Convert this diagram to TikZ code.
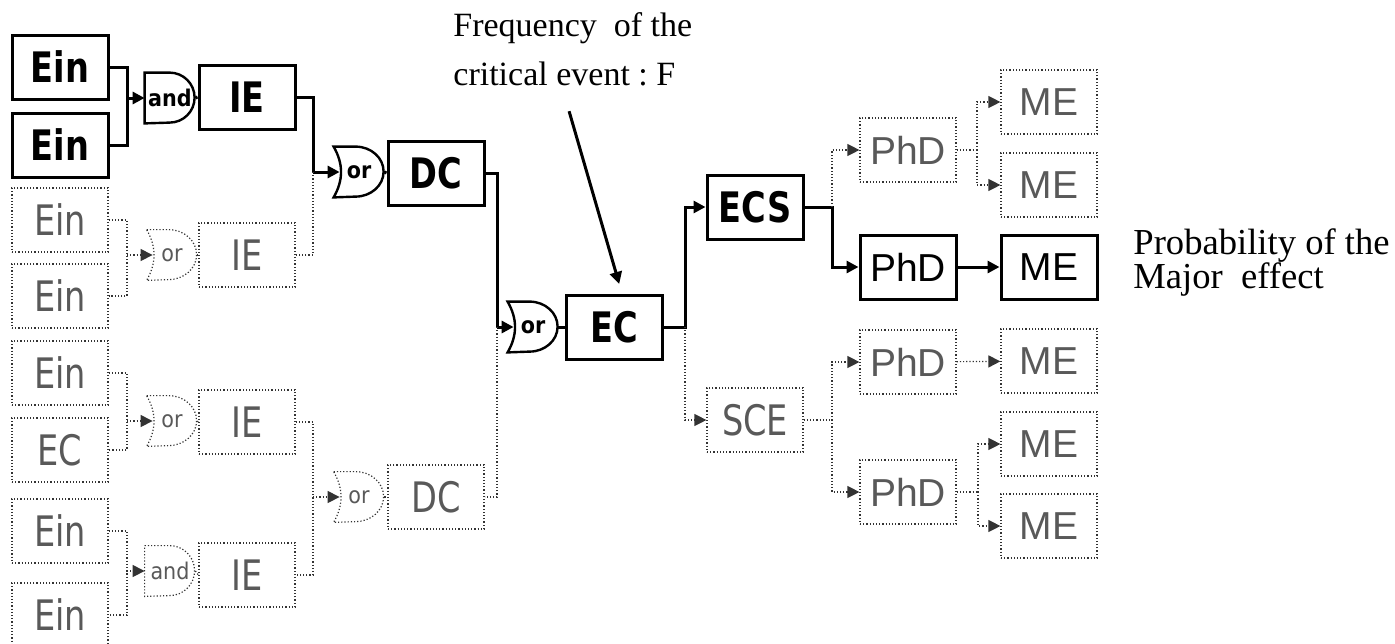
\documentclass[tikz,border=0pt]{standalone}
\usepackage{fontspec}
\setmainfont{Liberation Serif}
\newfontfamily\boxfont[FakeStretch=0.8]{DejaVu Sans}
\newfontfamily\gatefont[FakeStretch=0.9]{DejaVu Sans}
\newfontfamily\arialfont{Liberation Sans}
\usetikzlibrary{arrows.meta}

\begin{document}
\begin{tikzpicture}[
  x=0.5pt, y=-0.5pt,
  box/.style={
    minimum width=48pt,
    minimum height=32pt,
    inner sep=0pt,
    font=\boxfont\fontsize{21}{21}\selectfont
  },
  evbox/.style={box, draw, line width=1.5pt, font=\boxfont\bfseries\fontsize{21}{21}\selectfont},
  endbox/.style={box, draw, line width=1.5pt, font=\arialfont\fontsize{19.5}{19.5}\selectfont},
  faint/.style={draw=black!80, densely dotted, line width=0.6pt, text=black!65},
  ghostbox/.style={box, faint},
  ghostend/.style={box, faint, font=\arialfont\fontsize{19.5}{19.5}\selectfont},
  gate/.style={
    minimum width=25pt,
    minimum height=25pt,
    inner sep=0pt,
    font=\gatefont\fontsize{11.5}{11.5}\selectfont
  },
  livegate/.style={gate, font=\gatefont\bfseries\fontsize{11.5}{11.5}\selectfont},
  ghostgate/.style={gate, text=black!65},
  wire/.style={line width=1.5pt},
  dwire/.style={draw=black!80, densely dotted, line width=0.6pt},
  arr/.style={-{Triangle[length=6pt,width=6pt]}},
  note/.style={align=left, inner sep=0pt, font=\fontsize{17}{24.5}\selectfont}
]
\useasboundingbox (0,0) rectangle (1395,643);

% left column: initiating events
\node[evbox] (ein1) at (60,67) {Ein};
\node[evbox] (ein2) at (60,145) {Ein};
\node[ghostbox] (ein3) at (60,220) {Ein};
\node[ghostbox] (ein4) at (60,296) {Ein};
\node[ghostbox] (ein5) at (60,373) {Ein};
\node[ghostbox] (ecin) at (60,450) {EC};
\node[ghostbox] (ein6) at (60,531) {Ein};
\node[ghostbox] (ein7) at (60,615) {Ein};

% gates and intermediate events
\node[livegate] (and1) at (170,98) {and};
\node[ghostgate] (or2) at (172,255) {or};
\node[ghostgate] (or4) at (172,421) {or};
\node[ghostgate] (and5) at (170,571) {and};

\node[evbox] (ie1) at (247,97) {IE};
\node[ghostbox] (ie2) at (247,255) {IE};
\node[ghostbox] (ie3) at (247,422) {IE};
\node[ghostbox] (ie4) at (247,575) {IE};

\node[livegate] (or3) at (359,172) {or};
\node[ghostgate] (or6) at (359,497) {or};
\node[evbox] (dc1) at (436,173) {DC};
\node[ghostbox] (dc2) at (436,497) {DC};

\node[livegate] (or7) at (533,327) {or};
\node[evbox] (ec) at (614,327) {EC};

% gate outlines
\foreach \g in {and1}
  \draw[line width=1.2pt] (\g.north west) -- ++(12.5pt,0) arc[start angle=90, end angle=-90, radius=12.5pt] -- (\g.south west) -- cycle;
\foreach \g in {and5}
  \draw[faint] (\g.north west) -- ++(12.5pt,0) arc[start angle=90, end angle=-90, radius=12.5pt] -- (\g.south west) -- cycle;
\foreach \g in {or3,or7}
  \draw[line width=1.2pt] (\g.north west) -- ++(11pt,0) arc[start angle=90, end angle=-90, x radius=14pt, y radius=12.5pt] -- (\g.south west) to[bend right=30] cycle;
\foreach \g in {or2,or4,or6}
  \draw[faint] (\g.north west) -- ++(11pt,0) arc[start angle=90, end angle=-90, x radius=14pt, y radius=12.5pt] -- (\g.south west) to[bend right=30] cycle;

% right side: consequences
\node[evbox] (ecs) at (755,207) {ECS};
\node[ghostbox] (sce) at (755,420) {SCE};
\node[ghostend] (phd1) at (908,150) {PhD};
\node[endbox] (phd2) at (908,267) {PhD};
\node[ghostend] (phd3) at (908,362) {PhD};
\node[ghostend] (phd4) at (908,492) {PhD};
\node[ghostend] (me1) at (1049,102) {ME};
\node[ghostend] (me2) at (1049,185) {ME};
\node[endbox] (me3) at (1049,267) {ME};
\node[ghostend] (me4) at (1049,361) {ME};
\node[ghostend] (me5) at (1049,444) {ME};
\node[ghostend] (me6) at (1049,526) {ME};

\node[note, anchor=north west] (freq) at (453,12) {Frequency\ \ of the\\critical event\ :\ F};
\node[note, anchor=north west, font=\fontsize{18.3}{17}\selectfont] (prob) at (1133,228) {Probability of the\\Major\ \ effect};

% junctions
\coordinate (j1) at (127,98);
\coordinate (j2) at (127,255);
\coordinate (j4) at (127,421);
\coordinate (j5) at (127,571);
\coordinate (j3) at (313,172);
\coordinate (j6) at (313,497);
\coordinate (j7) at (497,327);
\coordinate (jec) at (685,327);
\coordinate (jecs) at (832,207);
\coordinate (jsce) at (832,420);
\coordinate (jphd1) at (977,150);
\coordinate (jphd4) at (978,492);

% solid path
\draw[wire] (ein1.east) -| (j1) |- (ein2.east);
\draw[wire, arr] (j1) -- (and1.west);
\draw[wire] (and1.east) -- (ie1.west);
\draw[wire] (ie1.east) -| (j3);
\draw[wire, arr] (j3) -- ([xshift=3pt]or3.west);
\draw[wire] (or3.east) -- (dc1.west);
\draw[wire] (dc1.east) -| (j7);
\draw[wire, arr] (j7) -- ([xshift=3pt]or7.west);
\draw[wire] (or7.east) -- (ec.west);
\draw[wire, arr] (ec.east) -- (jec) |- (ecs.west);
\draw[wire, arr] (ecs.east) -- (jecs) |- (phd2.west);
\draw[wire, arr] (phd2) -- (me3);
\draw[wire, arr, shorten <=13pt, shorten >=5pt] ([xshift=-5.5pt]freq.south) -- ([xshift=4pt]ec.north);

% dotted paths
\draw[dwire] (j3) |- (ie2.east);
\draw[dwire] (ein3.east) -| (j2) |- (ein4.east);
\draw[dwire, arr] (j2) -- ([xshift=3pt]or2.west);
\draw[dwire] (or2.east) -- (ie2.west);
\draw[dwire] (ein5.east) -| (j4) |- (ecin.east);
\draw[dwire, arr] (j4) -- ([xshift=3pt]or4.west);
\draw[dwire] (or4.east) -- (ie3.west);
\draw[dwire] (ein6.east) -| (j5) |- (ein7.east);
\draw[dwire, arr] (j5) -- (and5.west);
\draw[dwire] (and5.east) -- (ie4.west);
\draw[dwire] (ie3.east) -| (j6) |- (ie4.east);
\draw[dwire, arr] (j6) -- ([xshift=3pt]or6.west);
\draw[dwire] (or6.east) -- (dc2.west);
\draw[dwire] (j7) |- (dc2.east);
\draw[dwire, arr] (jec) |- (sce.west);
\draw[dwire, arr] (jecs) |- (phd1.west);
\draw[dwire] (phd1.east) -- (jphd1);
\draw[dwire, arr] (jphd1) |- (me1.west);
\draw[dwire, arr] (jphd1) |- (me2.west);
\draw[dwire] (sce.east) -- (jsce);
\draw[dwire, arr] (jsce) |- (phd3.west);
\draw[dwire, arr] (jsce) |- (phd4.west);
\draw[dwire, arr] (phd3) -- (me4);
\draw[dwire] (phd4.east) -- (jphd4);
\draw[dwire, arr] (jphd4) |- (me5.west);
\draw[dwire, arr] (jphd4) |- (me6.west);
\end{tikzpicture}
\end{document}
